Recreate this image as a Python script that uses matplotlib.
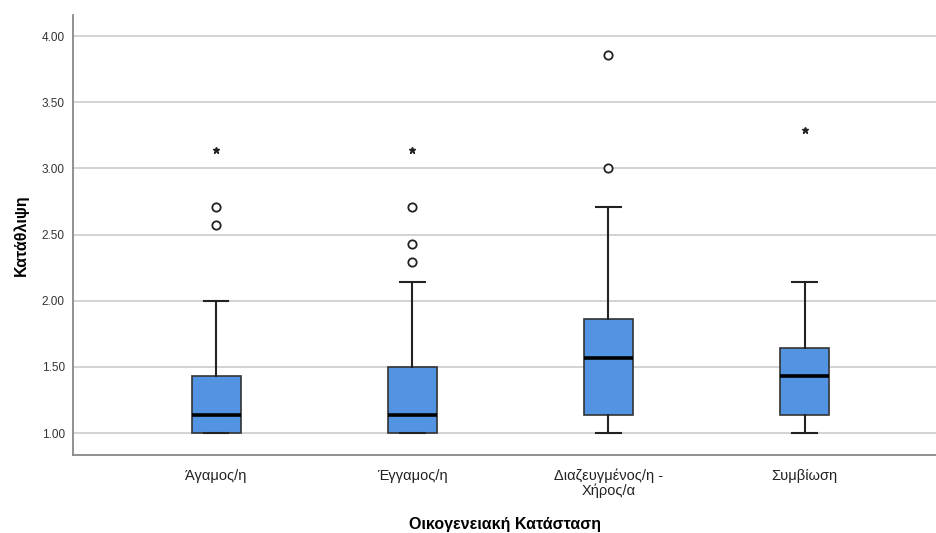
import matplotlib
matplotlib.use("Agg")
from matplotlib import pyplot as plt

plt.rcParams['font.family'] = ['Liberation Sans', 'DejaVu Sans']

categories = ['Άγαμος/η', 'Έγγαμος/η', 'Διαζευγμένος/η -\nΧήρος/α', 'Συμβίωση']
whisker_low = [1.00, 1.00, 1.00, 1.00]
q1 = [1.00, 1.00, 1.14, 1.14]
medians = [1.14, 1.14, 1.57, 1.43]
q3 = [1.43, 1.50, 1.86, 1.64]
whisker_high = [2.00, 2.14, 2.71, 2.14]
outliers = [[2.57, 2.71], [2.29, 2.43, 2.71], [3.00, 3.86], []]
extremes = [[3.14], [3.14], [], [3.29]]

stats = []
for i in range(len(categories)):
    stats.append({'whislo': whisker_low[i], 'q1': q1[i], 'med': medians[i],
                  'q3': q3[i], 'whishi': whisker_high[i], 'fliers': []})

fig = plt.figure(figsize=(9.36, 5.33), dpi=100)
ax = fig.add_axes([0.078, 0.1463, 0.922, 0.8256])

positions = [1, 2, 3, 4]
ax.bxp(stats, positions=positions, widths=0.25, patch_artist=True, showfliers=False,
       boxprops={'facecolor': '#5294e2', 'edgecolor': '#333333', 'linewidth': 1.2},
       medianprops={'color': 'black', 'linewidth': 2.6},
       whiskerprops={'color': '#222222', 'linewidth': 1.5},
       capprops={'color': '#222222', 'linewidth': 1.5}, capwidths=0.125,
       zorder=3)

for pos, vals in zip(positions, outliers):
    ax.plot([pos] * len(vals), vals, 'o', mfc='white', mec='#222222', mew=1.3, ms=6, zorder=4)
for pos, vals in zip(positions, extremes):
    ax.plot([pos] * len(vals), vals, '*', color='#222222', ms=5, zorder=4)

ax.set_xlim(0.27, 4.67)
ax.set_ylim(0.834, 4.16)
ax.set_yticks([1.0, 1.5, 2.0, 2.5, 3.0, 3.5, 4.0])
ax.set_yticklabels(['%.2f' % v for v in [1.0, 1.5, 2.0, 2.5, 3.0, 3.5, 4.0]])
ax.set_xticks(positions)
ax.set_xticklabels(categories, fontsize=10.5, color='#222222', linespacing=1.0)
ax.tick_params(axis='y', length=0, labelsize=8.5, labelcolor='#333333', pad=6)
ax.tick_params(axis='x', length=0, pad=10)

ax.grid(axis='y', color='#c8c8c8', linewidth=1.1, zorder=0)
ax.set_axisbelow(True)
for s in ['top', 'right']:
    ax.spines[s].set_visible(False)
for s in ['left', 'bottom']:
    ax.spines[s].set_color('#888888')
    ax.spines[s].set_linewidth(1.3)

ax.set_ylabel('Κατάθλιψη', fontsize=11.5, fontweight='bold', labelpad=9)
ax.set_xlabel('Οικογενειακή Κατάσταση', fontsize=11.5, fontweight='bold', labelpad=14)

plt.savefig('out.png', dpi=100)
